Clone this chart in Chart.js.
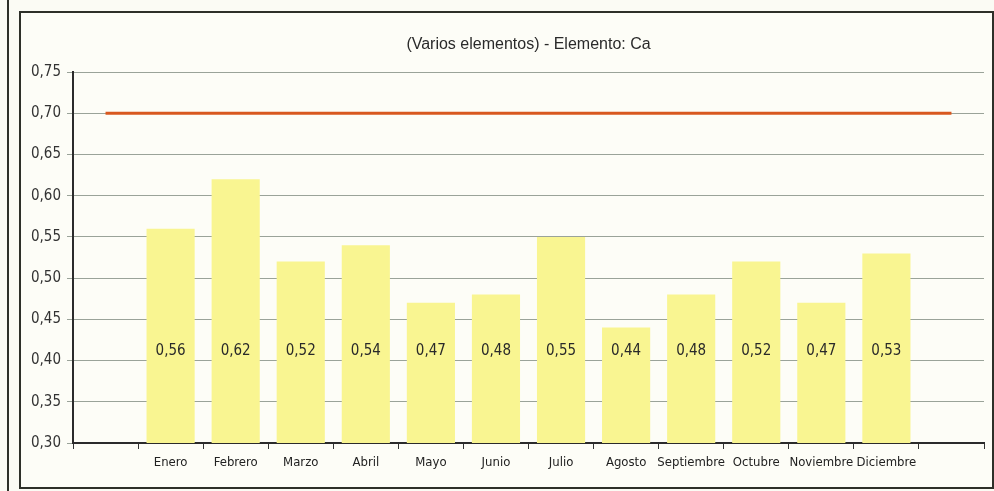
<!DOCTYPE html>
<html>
<head>
<meta charset="utf-8">
<script src="https://cdn.jsdelivr.net/npm/chart.js@4.4.1/dist/chart.umd.min.js"></script>
<style>
  html, body { margin: 0; padding: 0; background: #fbfbf4; }
  #wrap { position: relative; width: 994px; height: 491px; }
</style>
</head>
<body>
<div id="wrap"><canvas id="chart" width="994" height="491"></canvas></div>
<script>
const chartTitle = '(Varios elementos) - Elemento: Ca';
// empty slots before and after the months, as in the original sheet
const months = ['', 'Enero', 'Febrero', 'Marzo', 'Abril', 'Mayo', 'Junio', 'Julio',
    'Agosto', 'Septiembre', 'Octubre', 'Noviembre', 'Diciembre', ''];
const caValues = [null, 0.56, 0.62, 0.52, 0.54, 0.47, 0.48, 0.55, 0.44, 0.48, 0.52, 0.47, 0.53, null];
const limitValues = [0.70, 0.70, 0.70, 0.70, 0.70, 0.70, 0.70, 0.70, 0.70, 0.70, 0.70, 0.70, 0.70, 0.70];
const yMin = 0.30;
const yMax = 0.75;
const yStep = 0.05;

const narrow = "'Liberation Sans Narrow', 'Arial Narrow', 'DejaVu Sans Condensed', sans-serif";

const fmt = v => v.toFixed(2).replace('.', ',');

// frame, title and the value labels inside the bars
const decorPlugin = {
    id: 'decor',
    beforeDraw(chart) {
        const ctx = chart.ctx;
        ctx.save();
        ctx.fillStyle = '#fdfdf7';
        ctx.fillRect(20, 12, 973, 476);
        ctx.strokeStyle = '#2e3029';
        ctx.lineWidth = 2;
        ctx.strokeRect(20, 12, 973, 476);
        ctx.beginPath();
        ctx.moveTo(8, 0);
        ctx.lineTo(8, 491);
        ctx.stroke();
        ctx.restore();
    },
    afterDraw(chart) {
        const ctx = chart.ctx;
        const area = chart.chartArea;
        ctx.save();
        ctx.fillStyle = '#2a2a2a';
        ctx.font = "16px 'Liberation Sans', Arial, sans-serif";
        ctx.textAlign = 'center';
        ctx.textBaseline = 'middle';
        ctx.fillText(chartTitle, (area.left + area.right) / 2, 45);

        const xScale = chart.scales.x;
        ctx.font = '15px ' + narrow;
        caValues.forEach((v, i) => {
            if (v === null) return;
            ctx.fillText(fmt(v), xScale.getPixelForValue(i), area.bottom - 92);
        });
        ctx.restore();
    }
};

new Chart(document.getElementById('chart'), {
    data: {
        labels: months,
        datasets: [
            {
                type: 'bar',
                data: caValues,
                backgroundColor: '#f9f591',
                borderWidth: 0,
                categoryPercentage: 1,
                barPercentage: 0.74,
                order: 2
            },
            {
                type: 'line',
                data: limitValues,
                borderColor: '#d8581f',
                borderWidth: 3,
                pointRadius: 0,
                fill: false,
                order: 1
            }
        ]
    },
    options: {
        responsive: false,
        animation: false,
        layout: { padding: { top: 72, right: 10, left: 0, bottom: 0 } },
        plugins: {
            legend: { display: false },
            title: { display: false },
            tooltip: { enabled: false }
        },
        scales: {
            x: {
                offset: true,
                grid: {
                    offset: true,
                    drawOnChartArea: false,
                    drawTicks: true,
                    tickLength: 6,
                    color: '#333'
                },
                border: { color: '#2b2b2b', width: 2 },
                ticks: {
                    color: '#222',
                    font: { family: narrow, size: 13 },
                    maxRotation: 0,
                    autoSkip: false,
                    padding: 6
                },
                afterFit(scale) { scale.height = 48; }
            },
            y: {
                min: yMin,
                max: yMax,
                ticks: {
                    stepSize: yStep,
                    color: '#333',
                    font: { family: narrow, size: 15 },
                    padding: 6,
                    callback: v => fmt(v)
                },
                grid: {
                    color: '#9aa399',
                    lineWidth: 1,
                    tickLength: 6
                },
                border: { color: '#2b2b2b', width: 2 },
                afterFit(scale) { scale.width = 73; }
            }
        }
    },
    plugins: [decorPlugin]
});
</script>
</body>
</html>
